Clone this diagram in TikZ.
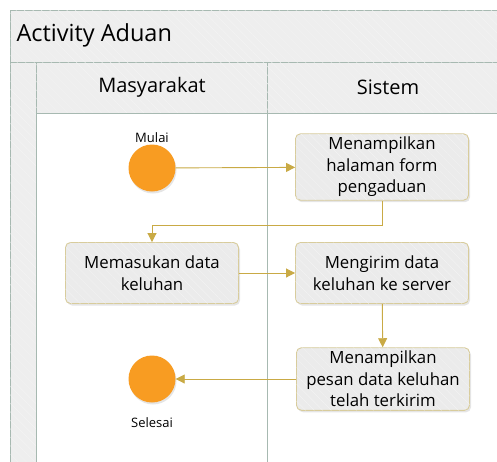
\documentclass[tikz,border=0pt]{standalone}
\usepackage{fontspec}
\setmainfont{Open Sans}
\usetikzlibrary{arrows.meta, positioning, shadows, patterns.meta}

\definecolor{frameline}{HTML}{A7B9B1}
\definecolor{bandfill}{HTML}{EEEEEE}
\definecolor{hatchline}{HTML}{F5F5F5}
\definecolor{boxfill}{HTML}{EBEBEB}
\definecolor{boxline}{HTML}{D8CC9C}
\definecolor{flowline}{HTML}{C9AA45}
\definecolor{startend}{HTML}{F89C22}

\begin{document}
\begin{tikzpicture}[x=1pt, y=-1pt,
      hatch/.style={postaction={pattern={Lines[angle=-45, distance=6pt, line width=0.25pt]}, pattern color=hatchline}},
      band/.style={draw=frameline, line width=0.8pt, fill=bandfill, hatch},
      action/.style={rectangle, rounded corners=5pt, draw=boxline, line width=0.9pt, fill=boxfill, hatch,
        drop shadow={opacity=0.2, shadow xshift=1.5pt, shadow yshift=-2pt},
        minimum width=173pt, minimum height=61pt, align=center, font=\fontsize{16.8}{21.5}\selectfont},
      terminal/.style={circle, fill=startend, minimum size=47pt, inner sep=0pt,
        drop shadow={opacity=0.2, shadow xshift=1pt, shadow yshift=-2pt}},
      caption/.style={font=\fontsize{13}{15}\selectfont},
      flow/.style={draw=flowline, line width=0.9pt, -{Triangle[length=9pt, width=9pt]}}]

      \fill[white] (0,0) rectangle (497,461);
      \useasboundingbox (0,0) rectangle (497,461);

      % Swimlane frame
      \path[band] (10,10) rectangle (520,62);
      \path[band] (10,62) rectangle (36,480);
      \path[band] (36,62) rectangle (267,113);
      \path[band] (267,62) rectangle (509,113);
      \draw[frameline, line width=0.8pt] (36,113) rectangle (267,480);
      \draw[frameline, line width=0.8pt] (267,113) rectangle (509,480);

      \node[anchor=west, font=\fontsize{23.5}{26}\selectfont] (title) at (13,35) {Activity Aduan};
      \node[font=\fontsize{20}{22}\selectfont] (lane1) at (152,87) {Masyarakat};
      \node[font=\fontsize{20}{22}\selectfont] (lane2) at (388,87) {Sistem};

      % Activities
      \node[terminal] (mulai) at (152,168) {};
      \node[caption] (lblmulai) at (152,138) {Mulai};
      \node[action] (form) at (382,167) {Menampilkan\\halaman form\\pengaduan};
      \node[action] (isi) at (152,273) {Memasukan data\\keluhan};
      \node[action] (kirim) at (382,273) {Mengirim data\\keluhan ke server};
      \node[action] (pesan) at (383,379) {Menampilkan\\pesan data keluhan\\telah terkirim};
      \node[terminal] (selesai) at (152,379) {};
      \node[caption] (lblselesai) at (152,423) {Selesai};

      % Arrows
      \draw[flow] (mulai) -- (form);
      \draw[flow] (form.south) -- ++(0,25) -| (isi.north);
      \draw[flow] (isi) -- (kirim);
      \draw[flow] (kirim) -- (pesan);
      \draw[flow] (pesan) -- (selesai);
    \end{tikzpicture}
\end{document}
